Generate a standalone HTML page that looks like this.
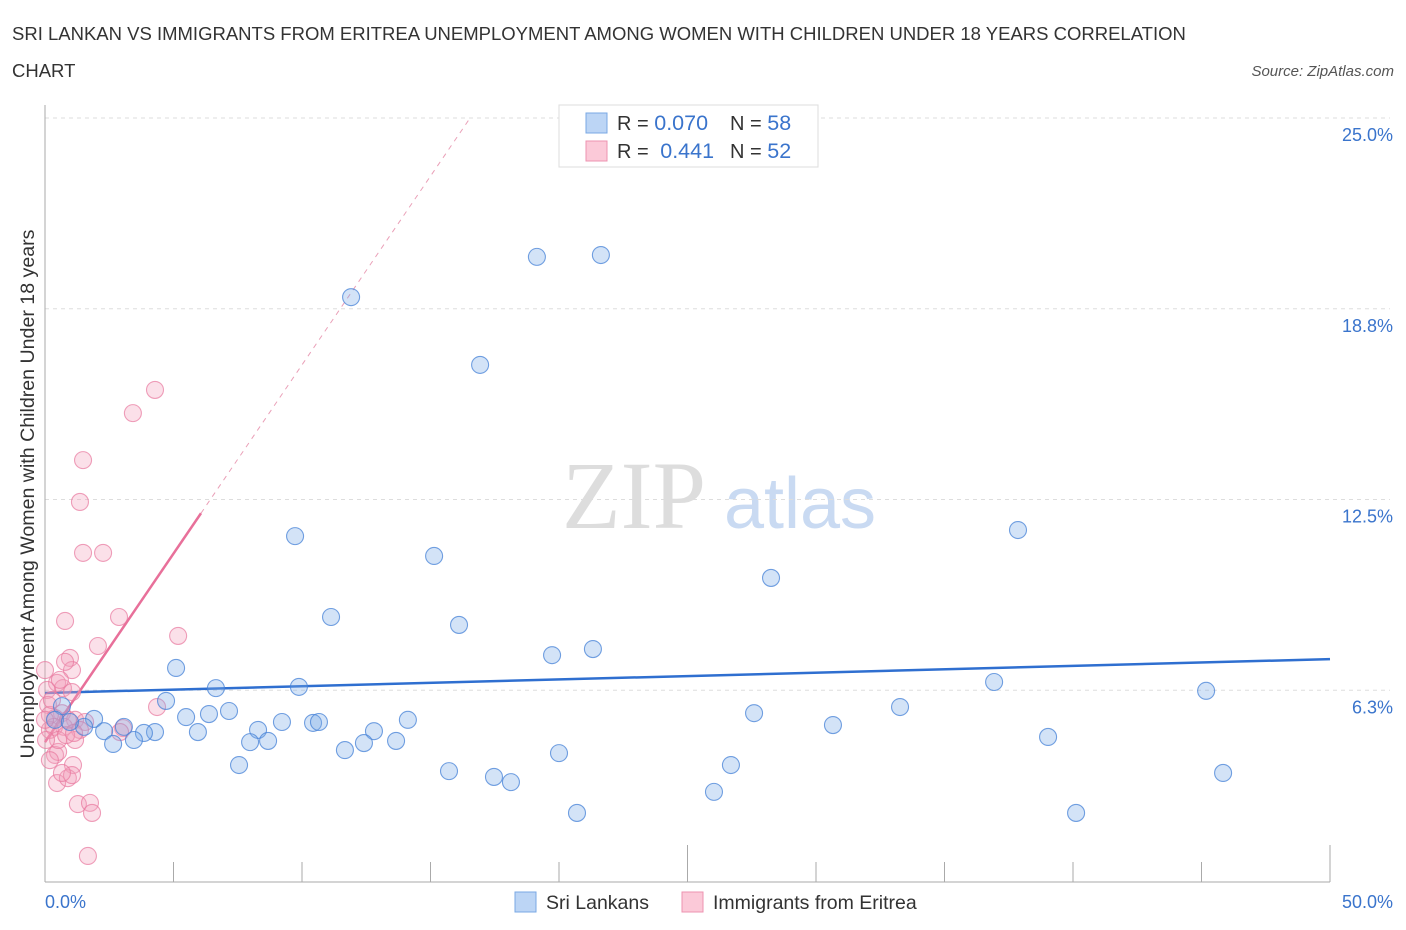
<!DOCTYPE html>
<html><head><meta charset="utf-8"><style>
body{margin:0;background:#fff;font-family:"Liberation Sans",sans-serif;}
#wrap{position:relative;width:1406px;height:930px;overflow:hidden;}
</style></head><body>
<div id="wrap">
<svg id="chart" width="1406" height="930" xmlns="http://www.w3.org/2000/svg">
<text x="12" y="40" font-size="18.5" fill="#333">SRI LANKAN VS IMMIGRANTS FROM ERITREA UNEMPLOYMENT AMONG WOMEN WITH CHILDREN UNDER 18 YEARS CORRELATION</text>
<text x="12" y="77" font-size="18.5" fill="#333">CHART</text>
<text x="1394" y="76" font-size="15" fill="#555" font-style="italic" text-anchor="end">Source: ZipAtlas.com</text>
<text x="634" y="528" font-size="96" fill="#ddd" font-family="Liberation Serif,serif" text-anchor="middle">ZIP</text>
<text x="800" y="528" font-size="72" fill="#c9daf2" text-anchor="middle">atlas</text>
<text transform="translate(34,494) rotate(-90)" font-size="19.6" fill="#333" text-anchor="middle">Unemployment Among Women with Children Under 18 years</text>
<g id="grid"></g><g id="ticks"></g><g id="lines"></g><g id="pts"></g>
<g>
<rect x="559" y="105" width="259" height="62" fill="#fff" stroke="#ddd"/>
<rect x="586" y="113" width="21" height="20" fill="#bcd5f5" stroke="#7aa8e4"/>
<rect x="586" y="141" width="21" height="20" fill="#fbc9d8" stroke="#ee93b0"/>
<text x="617" y="130" font-size="20" fill="#333">R = <tspan fill="#3a74cc" font-size="21.5">0.070</tspan></text>
<text x="730" y="130" font-size="20" fill="#333">N = <tspan fill="#3a74cc" font-size="21.5">58</tspan></text>
<text x="617" y="158" font-size="20" fill="#333">R = <tspan fill="#3a74cc" dx="6" font-size="21.5">0.441</tspan></text>
<text x="730" y="158" font-size="20" fill="#333">N = <tspan fill="#3a74cc" font-size="21.5">52</tspan></text>
</g>
<g>
<rect x="515" y="892" width="21" height="20" fill="#bcd5f5" stroke="#7aa8e4"/>
<text x="546" y="909" font-size="19.5" fill="#333">Sri Lankans</text>
<rect x="682" y="892" width="21" height="20" fill="#fbc9d8" stroke="#ee93b0"/>
<text x="713" y="909" font-size="19.5" fill="#333">Immigrants from Eritrea</text>
</g>
</svg>
</div>
<script>
const blueX=[11.91,19.14,21.63,16.93,9.73,15.14,37.86,28.25,11.13,16.11,19.73,21.32,5.10,36.93,45.18,6.65,9.88,4.71,0.66,33.27,27.59,30.66,5.49,6.38,7.16,1.91,9.22,10.43,10.66,14.12,8.29,5.95,3.07,4.28,3.85,2.30,1.52,12.80,39.03,2.65,3.46,7.98,8.68,12.41,11.67,13.66,20.00,7.55,15.72,26.69,17.47,18.13,45.84,26.03,20.70,40.12,0.39,0.97];
const blueY=[19.13,20.45,20.51,16.91,11.30,10.65,11.50,9.93,8.65,8.39,7.40,7.60,6.98,6.52,6.23,6.32,6.36,5.90,5.73,5.70,5.50,5.11,5.37,5.47,5.57,5.31,5.21,5.18,5.21,5.28,4.95,4.88,5.05,4.88,4.85,4.91,5.05,4.91,4.72,4.49,4.62,4.55,4.59,4.52,4.29,4.59,4.19,3.80,3.60,3.80,3.41,3.24,3.54,2.92,2.23,2.23,5.28,5.21];
const pinkX=[4.28,3.42,1.48,1.36,1.48,2.26,0.78,2.88,5.18,2.06,0.97,1.05,0.47,0.70,0.08,4.36,0.12,0.66,1.17,1.56,0.39,0.19,0.74,1.36,3.04,2.92,0.19,1.17,0.39,0.51,0.19,0.47,1.09,0.89,1.05,0.66,1.28,1.75,1.83,1.67,0,0.58,0.78,1.05,0.89,0.35,0,0.51,0.82,1.13,0.04,0.27];
const pinkY=[16.09,15.33,13.79,12.42,10.75,10.75,8.52,8.65,8.03,7.70,7.31,6.91,6.49,6.32,6.26,5.70,5.77,5.50,5.28,5.21,5.34,5.44,5.05,4.95,5.01,4.88,4.95,4.62,4.13,4.23,3.96,3.21,3.80,3.37,3.47,3.54,2.52,2.56,2.23,0.82,6.91,6.59,7.18,6.19,5.28,5.05,5.28,4.62,4.78,4.85,4.62,5.93];
const yTicks=[25,18.75,12.5,6.25];
const yTickLabels=["25.0%","18.8%","12.5%","6.3%"];
const blueTrend=[[0,6.16],[50,7.27]];
const pinkTrend=[[0,4.55],[6.07,12.05]];
const pinkDash=[[6.07,12.05],[16.54,25]];
const NS="http://www.w3.org/2000/svg";
const X0=45,X1=1330,YB=881,PXPERPCT=30.52;
const sx=v=>X0+v/50*(X1-X0);
const sy=v=>YB-v*PXPERPCT;
function mk(t,a,p){const e=document.createElementNS(NS,t);for(const k in a)e.setAttribute(k,a[k]);p.appendChild(e);return e;}
const grid=document.getElementById('grid'),ticks=document.getElementById('ticks'),lines=document.getElementById('lines'),pts=document.getElementById('pts');
yTicks.forEach((t,i)=>{
 const l=mk('line',{x1:45,x2:1390,y1:sy(t),y2:sy(t),stroke:'#ddd','stroke-dasharray':'4,4'},grid);
 
 
 const tx=mk('text',{x:1393,y:sy(t)+23,'font-size':18,fill:'#3a74cc','text-anchor':'end'},ticks);
 tx.textContent=yTickLabels[i];
 
 
});
const ax=mk('line',{x1:45,x2:45,y1:105,y2:882,stroke:'#aaa'},ticks);


const bx=mk('line',{x1:45,x2:1330,y1:882,y2:882,stroke:'#aaa'},ticks);


for(let i=0;i<=10;i++){
 const x=sx(i*5);
 const t=mk('line',{x1:x,x2:x,y1:i%5==0?845:862,y2:882,stroke:'#aaa'},ticks);
 
 
}
const xl=mk('text',{x:45,y:908,'font-size':18,fill:'#3a74cc'},ticks);xl.textContent='0.0%';


const xr=mk('text',{x:1393,y:908,'font-size':18,fill:'#3a74cc','text-anchor':'end'},ticks);xr.textContent='50.0%';


function dot(x,y,f,s,n){const c=mk('circle',{cx:sx(x),cy:sy(y),r:8.5,fill:f,stroke:s,'stroke-width':1.1},pts);
 
 }
pinkX.forEach((x,i)=>dot(x,pinkY[i],'rgba(244,160,188,0.33)','rgba(232,120,158,0.7)','point-eritrea'));
blueX.forEach((x,i)=>dot(x,blueY[i],'rgba(120,170,230,0.33)','rgba(70,130,215,0.75)','point-sri-lankan'));
function ln(a,st,w,d,n){const l=mk('line',{x1:sx(a[0][0]),y1:sy(a[0][1]),x2:sx(a[1][0]),y2:sy(a[1][1]),stroke:st,'stroke-width':w},lines);
 if(d)l.setAttribute('stroke-dasharray',d);
 
 }
ln(pinkDash,'#eaa0b8',1,'5,5','trend-eritrea-extension');
ln(blueTrend,'#2f6fd0',2.5,null,'trend-sri-lankans');
ln(pinkTrend,'#e8709a',2.5,null,'trend-eritrea');
</script>
</body></html>
